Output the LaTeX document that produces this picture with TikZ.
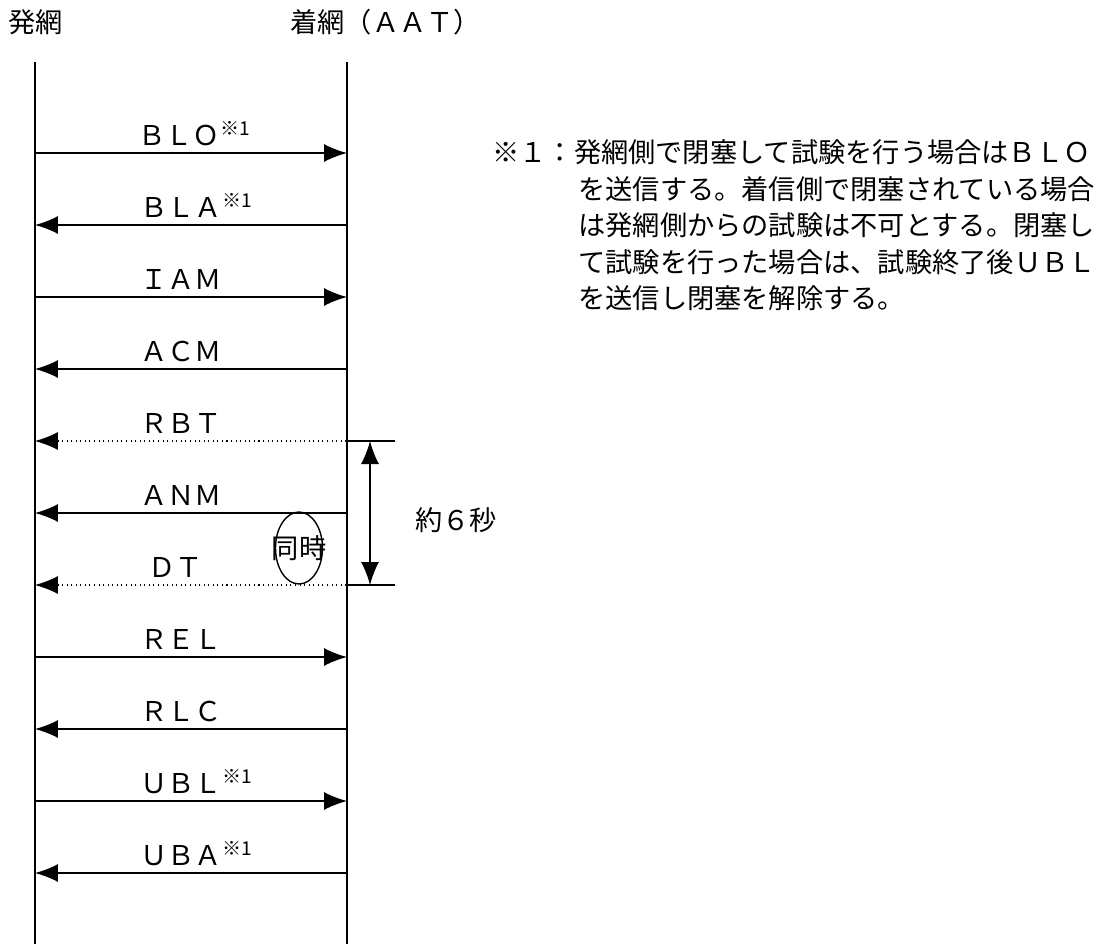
\documentclass[tikz,border=0pt]{standalone}
\usepackage{fontspec}
\setmainfont{Noto Sans CJK JP}
\usepackage{tikz}
\usetikzlibrary{arrows.meta}
\usetikzlibrary{shapes.geometric}

\tikzset{
  jp/.style={font=\fontsize{15.5pt}{18pt}\selectfont, inner sep=0pt},
  lifeline/.style={line width=0.9pt},
  tip/.style={Latex[length=4.6mm,width=3.6mm]},
  tor/.style={line width=0.8pt,-{Latex[length=4.6mm,width=3.6mm]}},
  tol/.style={line width=0.8pt,{Latex[length=4.6mm,width=3.6mm]}-},
  told/.style={line width=0.6pt,dotted,{Latex[length=4.6mm,width=3.6mm]}-},
}

\begin{document}
\begin{tikzpicture}[x=0.02cm,y=-0.02cm]
\useasboundingbox (0,0) rectangle (1117,944);
		\node[jp,anchor=west] (hA) at (8,22) {発網};
		\node[jp,anchor=west] (hB) at (290,22) {着網（ＡＡＴ）};
		\coordinate (A0) at (35,62); \coordinate (A1) at (35,944);
		\coordinate (B0) at (347,62); \coordinate (B1) at (347,944);
		\draw[lifeline] (A0) -- (A1);
		\draw[lifeline] (B0) -- (B1);
	\foreach \y/\x/\lab/\sty in {153/138/{ＢＬＯ\textsuperscript{※1}}/tor,
		225/140/{ＢＬＡ\textsuperscript{※1}}/tol,
		297/140/{ＩＡＭ}/tor,
		369/140/{ＡＣＭ}/tol,
		441/140/{ＲＢＴ}/told,
		513/140/{ＡＮＭ}/tol,
		585/148/{ＤＴ}/told,
		657/140/{ＲＥＬ}/tor,
		729/140/{ＲＬＣ}/tol,
		801/140/{ＵＢＬ\textsuperscript{※1}}/tor,
		873/140/{ＵＢＡ\textsuperscript{※1}}/tol}{
		\coordinate (L\y) at (35,\y);
		\coordinate (R\y) at (347,\y);
		\draw[\sty] (L\y) -- (R\y);
		\node[jp,anchor=base west] (m\y) at (\x,\y-8) {\lab};
	}
		\node[draw,ellipse,line width=0.8pt,minimum width=0.94cm,minimum height=1.44cm] (same) at (299,548) {};
		\node[jp] (sameT) at (same) {同時};
		\coordinate (t1) at (395,441); \coordinate (t2) at (395,585);
		\coordinate (v1) at (370,441); \coordinate (v2) at (370,585);
		\draw[line width=0.8pt] (R441) -- (t1);
		\draw[line width=0.8pt] (R585) -- (t2);
		\draw[line width=0.8pt,{Latex[length=4.6mm,width=3.6mm]}-{Latex[length=4.6mm,width=3.6mm]}] (v1) -- (v2);
		\node[jp,anchor=west] (sec) at (415,520) {約６秒};
		\node[jp,anchor=west] (n1) at (492,152) {※１：発網側で閉塞して試験を行う場合はＢＬＯ};
		\node[jp,anchor=west] (n2) at (578,189) {を送信する。着信側で閉塞されている場合};
		\node[jp,anchor=west] (n3) at (578,225) {は発網側からの試験は不可とする。閉塞し};
		\node[jp,anchor=west] (n4) at (578,262) {て試験を行った場合は、試験終了後ＵＢＬ};
		\node[jp,anchor=west] (n5) at (578,298) {を送信し閉塞を解除する。};
\end{tikzpicture}
\end{document}
